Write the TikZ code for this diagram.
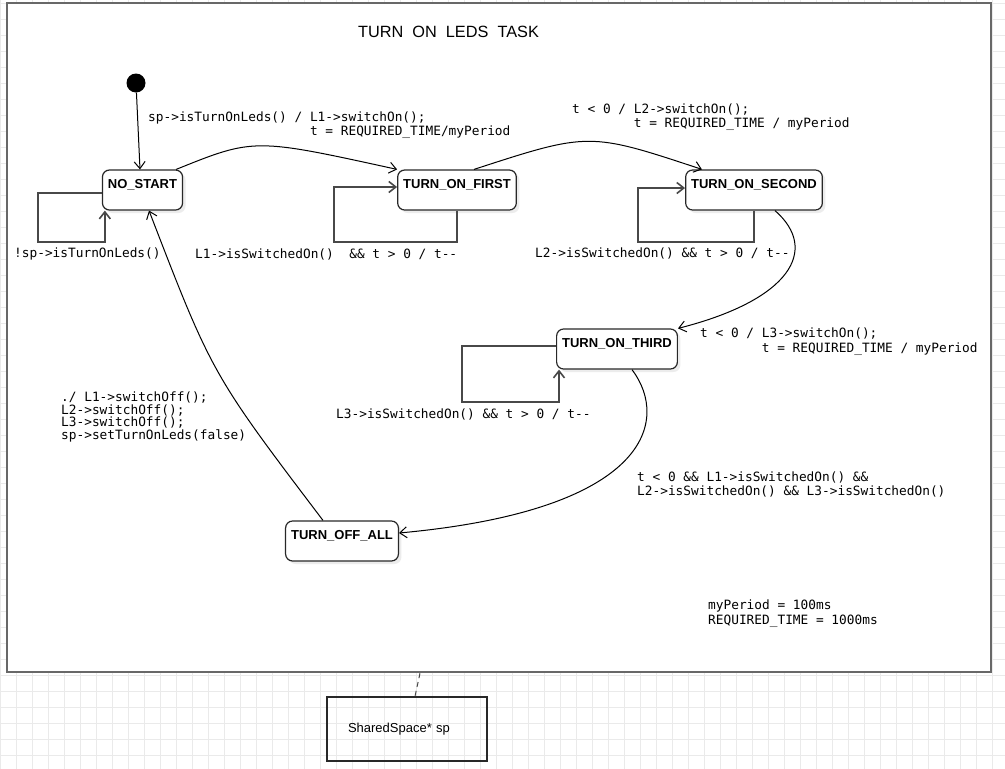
\documentclass[tikz,border=0pt]{standalone}
\usepackage{fontspec}
\setsansfont{Liberation Sans}
\setmonofont{DejaVu Sans Mono}
\usetikzlibrary{arrows.meta,shadows}
\definecolor{tgrid}{RGB}{234,234,234}
\definecolor{tframe}{RGB}{104,104,104}
\definecolor{tedge}{RGB}{40,40,40}
\definecolor{tloop}{RGB}{72,72,72}

\begin{document}
\begin{tikzpicture}[x=1pt,y=-1pt,
  state/.style={draw=tedge,line width=1.2pt,rounded corners=7pt,fill=white,
    font=\sffamily\bfseries\fontsize{13}{15}\selectfont,inner xsep=5.5pt,inner ysep=0pt,
    text height=18pt,text depth=22pt,
    drop shadow={shadow xshift=3pt,shadow yshift=-3pt,opacity=0.15}},
  code/.style={font=\ttfamily\fontsize{12.8}{14.5}\selectfont,align=left,anchor=west,inner sep=0pt},
  trans/.style={line width=1pt,-{Straight Barb[length=7pt,width=11pt]}},
  selfloop/.style={draw=tloop,line width=1.6pt,-{Straight Barb[length=7pt,width=11pt]}}]
  \useasboundingbox (0,0) rectangle (1005,769);
  \fill[white] (0,0) rectangle (1005,769);
  \foreach \gx in {0,16,...,1005} \draw[tgrid,line width=0.8pt] (\gx,0) -- (\gx,769);
  \foreach \gy in {3,19,...,769} \draw[tgrid,line width=0.8pt] (0,\gy) -- (1005,\gy);
  \node[draw=tframe,line width=2.5pt,fill=white,minimum width=984pt,minimum height=669pt,inner sep=0pt] (task) at (499,337.5) {};
  \node[font=\sffamily\fontsize{16.3}{18}\selectfont] (title) at (448.5,32) {TURN~~ON~~LEDS~~TASK};
  \node[draw=tedge,line width=1.5pt,minimum height=64pt,text width=118pt,inner xsep=21pt,align=left,
    font=\sffamily\fontsize{13}{15}\selectfont] (shared) at (407,729) {SharedSpace* sp};
  \draw[tloop,line width=1pt,dash pattern=on 5pt off 4pt] ([xshift=-79pt]task.south) -- ([xshift=8pt]shared.north);

  \node[circle,fill=black,minimum size=19pt,inner sep=0pt] (init) at (136,83) {};
  \node[state] (nostart) at (142.5,190) {NO\_START};
  \node[state] (first) at (457,190) {TURN\_ON\_FIRST};
  \node[state] (second) at (754,190) {TURN\_ON\_SECOND};
  \node[state] (third) at (617,349) {TURN\_ON\_THIRD};
  \node[state] (offall) at (342,541) {TURN\_OFF\_ALL};

  \draw[trans] (init) -- ([xshift=-2.5pt]nostart.north);
  \draw[trans] ([xshift=-7pt]nostart.north east) .. controls (254,138) .. (first.north west);
  \draw[trans] ([xshift=17pt]first.north) .. controls (589,132) .. ([xshift=-52pt]second.north);
  \draw[trans] ([xshift=21pt]second.south) .. controls (820,250) and (790,300) .. (third.north east);
  \draw[trans] ([xshift=15pt]third.south) .. controls (670,420) and (650,510) .. ([yshift=8pt]offall.east);
  \draw[trans] ([xshift=-19pt]offall.north) .. controls (212,374) .. ([xshift=6.5pt]nostart.south);

  \draw[selfloop] ([yshift=-3pt]nostart.west) -| (38,242) -| ([xshift=3pt]nostart.south west);
  \draw[selfloop] (first.south) |- (334,242) |- ([yshift=3pt]first.west);
  \draw[selfloop] (second.south) |- (638,242) |- ([yshift=2pt]second.west);
  \draw[selfloop] ([yshift=3pt]third.west) -| (462,402) -| ([xshift=3pt]third.south west);

  \node[code] (guard0) at (14,254) {!sp->isTurnOnLeds()};
  \node[code] (act1) at (148,125) {sp->isTurnOnLeds() / L1->switchOn();\\\phantom{sp->isTurnOnLeds() /~}t = REQUIRED\_TIME/myPeriod};
  \node[code] (guard1) at (195,254) {L1->isSwitchedOn()~~\&\& t > 0 / t--};
  \node[code] (act2) at (572,117) {t < 0 / L2->switchOn();\\\phantom{t < 0 /~}t = REQUIRED\_TIME / myPeriod};
  \node[code] (guard2) at (535,253) {L2->isSwitchedOn() \&\& t > 0 / t--};
  \node[code] (act3) at (700,341.5) {t < 0 / L3->switchOn();\\\phantom{t < 0 /~}t = REQUIRED\_TIME / myPeriod};
  \node[code] (guard3) at (336,414) {L3->isSwitchedOn() \&\& t > 0 / t--};
  \node[code] (act4) at (637,484.5) {t < 0 \&\& L1->isSwitchedOn() \&\&\\L2->isSwitchedOn() \&\& L3->isSwitchedOn()};
  \node[code,font=\ttfamily\fontsize{12.8}{12.7}\selectfont] (act5) at (61,417) {./ L1->switchOff();\\L2->switchOff();\\L3->switchOff();\\sp->setTurnOnLeds(false)};
  \node[code] (consts) at (708,613.5) {myPeriod = 100ms\\REQUIRED\_TIME = 1000ms};
\end{tikzpicture}
\end{document}
